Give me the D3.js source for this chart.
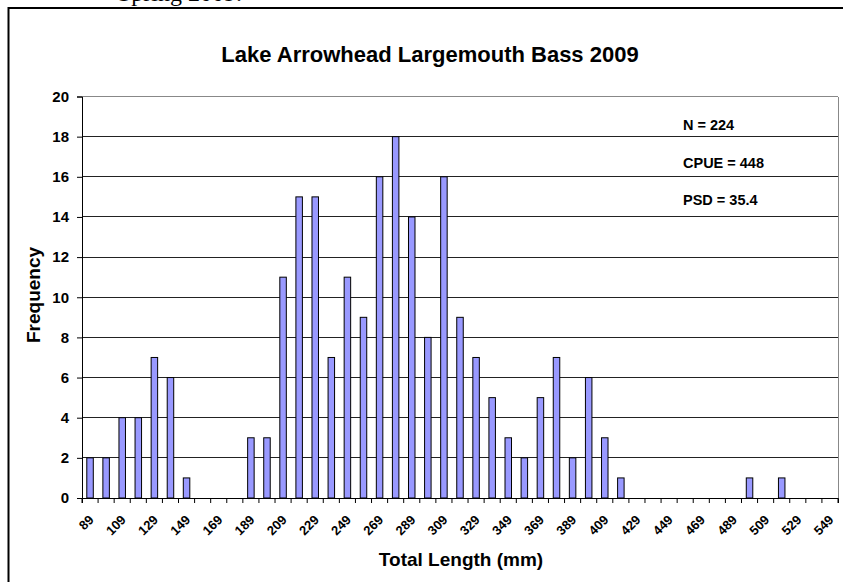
<!DOCTYPE html>
<html>
<head>
<meta charset="utf-8">
<script src="https://cdn.jsdelivr.net/npm/d3@7"></script>
<style>
  html, body { margin: 0; padding: 0; background: #fff; }
  svg { display: block; }
  text { font-family: Arial, "Liberation Sans", sans-serif; }
</style>
</head>
<body>
<svg id="chart" width="843" height="582"></svg>
<script>
// ---- data ----
const bins = [89,99,109,119,129,139,149,159,169,179,189,199,209,219,229,239,249,259,269,279,289,299,309,319,329,339,349,359,369,379,389,399,409,419,429,439,449,459,469,479,489,499,509,519,529,539,549];
const frequency = [2,2,4,4,7,6,1,0,0,0,3,3,11,15,15,7,11,9,16,18,14,8,16,9,7,5,3,2,5,7,2,6,3,1,0,0,0,0,0,0,0,1,0,1,0,0,0];
const yTicks = [0,2,4,6,8,10,12,14,16,18,20];
const xTickLabels = [89,109,129,149,169,189,209,229,249,269,289,309,329,349,369,389,409,429,449,469,489,509,529,549];
const stats = ["N = 224", "CPUE = 448", "PSD = 35.4"];
const title = "Lake Arrowhead Largemouth Bass 2009";

const svg = d3.select("#chart");
const m = {left: 82, right: 838, top: 96.5, bottom: 498};

// clipped caption from document above chart
svg.append("text").attr("x", 118).attr("y", 1)
  .style("font-family", "'Liberation Serif', 'Times New Roman', serif")
  .style("font-size", "24px").text("Spring 2009.");

// outer frame
svg.append("rect").attr("x", 8.5).attr("y", 8).attr("width", 900).attr("height", 700)
  .attr("fill", "none").attr("stroke", "#000").attr("stroke-width", 2);

const x = d3.scaleBand().domain(bins).range([m.left, m.right]).paddingInner(0).paddingOuter(0);
const y = d3.scaleLinear().domain([0, 20]).range([m.bottom, m.top]);

// gridlines
svg.append("g").selectAll("line").data(yTicks.filter(d => d > 0)).join("line")
  .attr("x1", m.left).attr("x2", m.right)
  .attr("y1", d => y(d)).attr("y2", d => y(d))
  .attr("stroke", d => d === 20 ? "#888" : "#222").attr("stroke-width", 1)
  .attr("shape-rendering", "crispEdges");
svg.append("line").attr("x1", m.right).attr("x2", m.right).attr("y1", m.top).attr("y2", m.bottom)
  .attr("stroke", "#888").attr("shape-rendering", "crispEdges");

// bars
const bw = 6.5;
svg.append("g").selectAll("rect").data(bins.map((b, i) => ({b, v: frequency[i]})).filter(d => d.v > 0)).join("rect")
  .attr("x", d => x(d.b) + x.bandwidth() / 2 - bw / 2)
  .attr("y", d => y(d.v))
  .attr("width", bw)
  .attr("height", d => y(0) - y(d.v))
  .attr("fill", "#9999ff").attr("stroke", "#000").attr("stroke-width", 1);

// y axis
const yAxis = d3.axisLeft(y).tickValues(yTicks).tickSize(5).tickPadding(8);
const gy = svg.append("g").attr("transform", `translate(${m.left},0)`).call(yAxis);
gy.select(".domain").attr("stroke", "#000");
gy.selectAll(".tick line").attr("stroke", "#000");
gy.selectAll(".tick text").style("font-size", "15px").style("font-weight", "bold")
  .style("font-family", "Arial, 'Liberation Sans', sans-serif").attr("fill", "#000");

// x axis
const xAxis = d3.axisBottom(x).tickSize(5).tickFormat(d => xTickLabels.includes(d) ? d : "");
const gx = svg.append("g").attr("transform", `translate(0,${m.bottom})`).call(xAxis);
gx.select(".domain").attr("stroke", "#000");
gx.selectAll(".tick line").attr("stroke", "#000").attr("transform", `translate(${-x.bandwidth() / 2},0)`);
svg.append("line").attr("x1", m.right).attr("x2", m.right).attr("y1", m.bottom).attr("y2", m.bottom + 5).attr("stroke", "#000");
gx.selectAll(".tick text")
  .style("font-size", "13px").style("font-weight", "bold")
  .style("font-family", "Arial, 'Liberation Sans', sans-serif").attr("fill", "#000")
  .attr("text-anchor", "end")
  .attr("x", 0).attr("y", 0).attr("dy", "0.71em")
  .attr("transform", "translate(-2,16) rotate(-45)");

// title
svg.append("text").attr("x", 430).attr("y", 62).attr("text-anchor", "middle")
  .style("font-size", "22px").style("font-weight", "bold").text(title);

// axis titles
svg.append("text").attr("transform", "translate(40,295) rotate(-90)").attr("text-anchor", "middle")
  .style("font-size", "19px").style("font-weight", "bold").text("Frequency");
svg.append("text").attr("x", 461).attr("y", 566).attr("text-anchor", "middle")
  .style("font-size", "19px").style("font-weight", "bold").text("Total Length (mm)");

// stats
const statY = [130, 168, 205];
svg.append("g").selectAll("text").data(stats).join("text")
  .attr("x", 683).attr("y", (d, i) => statY[i])
  .style("font-size", "14.5px").style("font-weight", "bold").text(d => d);
</script>
</body>
</html>
